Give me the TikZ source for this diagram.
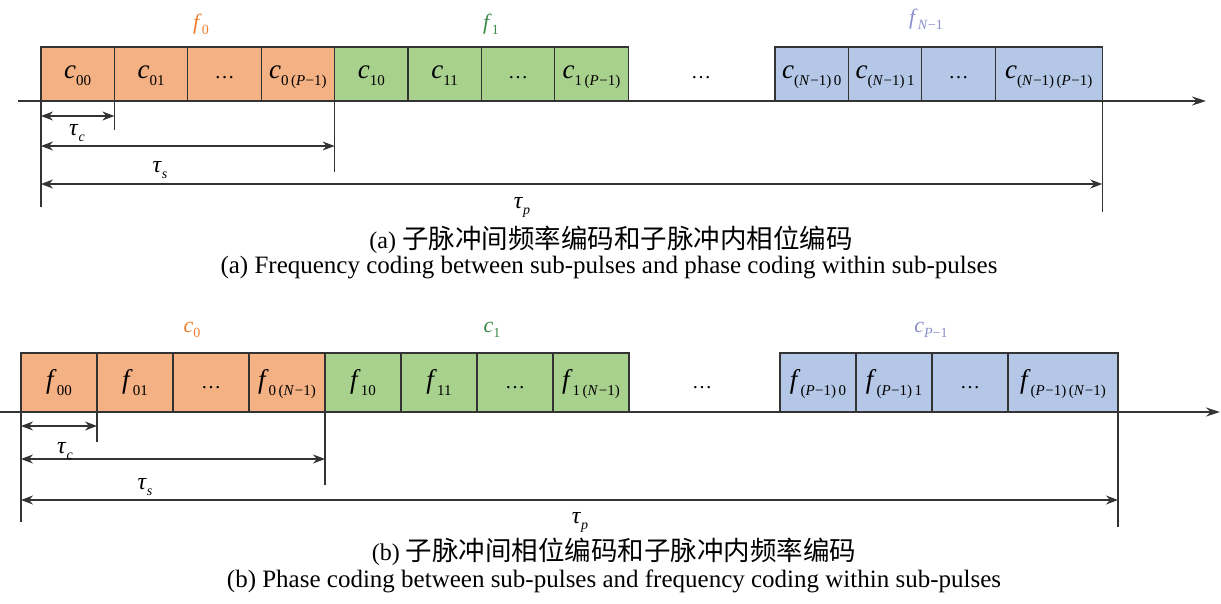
\documentclass[tikz,border=0pt]{standalone}
\usepackage{fontspec}
\setmainfont{Liberation Serif}
\newfontfamily\cjk{Noto Sans CJK SC}
\usetikzlibrary{arrows.meta,positioning,calc}

\definecolor{orA}{HTML}{F4B183}
\definecolor{grA}{HTML}{A9D18E}
\definecolor{blA}{HTML}{B4C7E7}
\definecolor{orT}{HTML}{ED7D31}
\definecolor{grT}{HTML}{3A8A45}
\definecolor{blT}{HTML}{8A8ECC}
\definecolor{edge}{HTML}{333333}

% symbol with lowered index
\newcommand{\idx}[3][15]{\textit{#2}\raisebox{-0.27em}{\fontsize{#1}{#1}\selectfont #3}}
\newcommand{\Pmo}{(\textit{P}\kern0.5pt−1)}
\newcommand{\Nmo}{(\textit{N}\kern0.5pt−1)}
\newcommand{\dts}{{\fontsize{20}{20}\selectfont …}}

\begin{document}
\begin{tikzpicture}[x=1pt,y=-1pt,node distance=0pt]
\tikzset{
  cell/.style={rectangle,draw=edge,line width=1.1pt,outer sep=0pt,inner sep=0pt,minimum height=54pt,minimum width=73.4pt,text height=16pt,text depth=8pt,font=\fontsize{27}{27}\selectfont},
  orc/.style={cell,fill=orA},
  grc/.style={cell,fill=grA},
  blc/.style={cell,fill=blA},
  cellb/.style={minimum height=59pt,minimum width=76pt,text height=18pt,text depth=7pt},
  gapdots/.style={inner sep=0pt,text height=16pt,text depth=8pt},
  timeax/.style={-{Stealth[length=14pt,width=9pt]},line width=1.3pt,draw=edge},
  dim/.style={{Stealth[length=12pt,width=9pt]}-{Stealth[length=12pt,width=9pt]},line width=1.1pt,draw=edge},
  tickln/.style={line width=1.1pt,draw=edge},
  lab/.style={inner sep=0pt,anchor=base,font=\fontsize{22}{22}\selectfont},
  tlab/.style={inner sep=0pt,anchor=north,font=\fontsize{24}{24}\selectfont},
  capcn/.style={inner sep=0pt,anchor=base,font=\fontsize{26.5}{26.5}\selectfont},
  capen/.style={inner sep=0pt,anchor=base,font=\fontsize{25}{26}\selectfont}
}
\useasboundingbox (0,0) rectangle (1221,603);
% ---- (a) frequency between, phase within
\coordinate (ta0) at (18,101);
\coordinate (ta1) at (1206,101);
\node[orc,anchor=west] (c00) at (41,74) {\idx{c}{00}};
\node[orc,right=of c00] (c01) {\idx{c}{01}};
\node[orc,right=of c01] (c0d) {\dts};
\node[orc,right=of c0d] (c0p) {\idx{c}{0\,\Pmo}};
\node[grc,right=of c0p] (c10) {\idx{c}{10}};
\node[grc,right=of c10] (c11) {\idx{c}{11}};
\node[grc,right=of c11] (c1d) {\dts};
\node[grc,right=of c1d] (c1p) {\idx{c}{1\,\Pmo}};
\node[gapdots] (ga) at (701,74) {\dts};
\node[blc,anchor=west] (cn0) at (775,74) {\idx{c}{\Nmo\,0}};
\node[blc,right=of cn0] (cn1) {\idx{c}{\Nmo\,1}};
\node[blc,right=of cn1] (cnd) {\dts};
\node[blc,right=of cnd,minimum width=107pt] (cnp) {\idx{c}{\Nmo\,\Pmo}};
\node[lab,text=orT] (fa0) at (201,29) {\idx[14]{f}{0}};
\node[lab,text=grT] (fa1) at (491,29) {\idx[14]{f}{1}};
\node[lab,text=blT] (fan) at (926,24) {\idx[14]{f}{\textit{N}−1}};
\draw[timeax] (ta0) -- (ta1);
\draw[tickln] (c00.south west) -- ++(0,106);
\draw[tickln] (c01.south west) -- ++(0,29);
\draw[tickln] (c10.south west) -- ++(0,71);
\draw[tickln] (cnp.south east) -- ++(0,111);
\draw[dim] ([yshift=-15pt]c00.south west) -- ([yshift=-15pt]c01.south west);
\draw[dim] ([yshift=-45pt]c00.south west) -- ([yshift=-45pt]c10.south west);
\draw[dim] ([yshift=-83pt]c00.south west) -- ([yshift=-83pt]cnp.south east);
\node[tlab] (tca) at (77,124) {\idx[14]{τ}{\textit{c}}};
\node[tlab] (tsa) at (160,161) {\idx[14]{τ}{\textit{s}}};
\node[tlab] (tpa) at (522,197) {\idx[14]{τ}{\textit{p}}};
\node[capcn] (capa) at (611,248) {{\fontsize{24}{24}\selectfont(a) }{\cjk 子脉冲间频率编码和子脉冲内相位编码}};
\node[capen] (enga) at (609,273) {(a) Frequency coding between sub-pulses and phase coding within sub-pulses};
% ---- (b) phase between, frequency within
\coordinate (tb0) at (0,412);
\coordinate (tb1) at (1220,412);
\node[orc,cellb,anchor=west] (f00) at (21,382.5) {\idx{f}{00}};
\node[orc,cellb,right=of f00] (f01) {\idx{f}{01}};
\node[orc,cellb,right=of f01] (f0d) {\dts};
\node[orc,cellb,right=of f0d] (f0n) {\idx{f}{0\,\Nmo}};
\node[grc,cellb,right=of f0n] (f10) {\idx{f}{10}};
\node[grc,cellb,right=of f10] (f11) {\idx{f}{11}};
\node[grc,cellb,right=of f11] (f1d) {\dts};
\node[grc,cellb,right=of f1d] (f1n) {\idx{f}{1\,\Nmo}};
\node[gapdots,text height=18pt,text depth=7pt] (gb) at (702,382.5) {\dts};
\node[blc,cellb,anchor=west] (fp0) at (780,382.5) {\idx{f}{\Pmo\,0}};
\node[blc,cellb,right=of fp0] (fp1) {\idx{f}{\Pmo\,1}};
\node[blc,cellb,right=of fp1] (fpd) {\dts};
\node[blc,cellb,right=of fpd,minimum width=110pt] (fpn) {\idx{f}{\Pmo\,\Nmo}};
\node[lab,text=orT] (cb0) at (192,332) {\idx[14]{c}{0}};
\node[lab,text=grT] (cb1) at (492,332) {\idx[14]{c}{1}};
\node[lab,text=blT] (cbp) at (931,332) {\idx[14]{c}{\textit{P}−1}};
\draw[timeax] (tb0) -- (tb1);
\draw[tickln] (f00.south west) -- ++(0,110);
\draw[tickln] (f01.south west) -- ++(0,30);
\draw[tickln] (f10.south west) -- ++(0,73);
\draw[tickln] (fpn.south east) -- ++(0,115);
\draw[dim] ([yshift=-14pt]f00.south west) -- ([yshift=-14pt]f01.south west);
\draw[dim] ([yshift=-47pt]f00.south west) -- ([yshift=-47pt]f10.south west);
\draw[dim] ([yshift=-88pt]f00.south west) -- ([yshift=-88pt]fpn.south east);
\node[tlab] (tcb) at (65,442) {\idx[14]{τ}{\textit{c}}};
\node[tlab] (tsb) at (145,478) {\idx[14]{τ}{\textit{s}}};
\node[tlab] (tpb) at (580,512) {\idx[14]{τ}{\textit{p}}};
\node[capcn] (capb) at (614,560) {{\fontsize{24}{24}\selectfont(b) }{\cjk 子脉冲间相位编码和子脉冲内频率编码}};
\node[capen] (engb) at (614,587) {(b) Phase coding between sub-pulses and frequency coding within sub-pulses};
\end{tikzpicture}
\end{document}
